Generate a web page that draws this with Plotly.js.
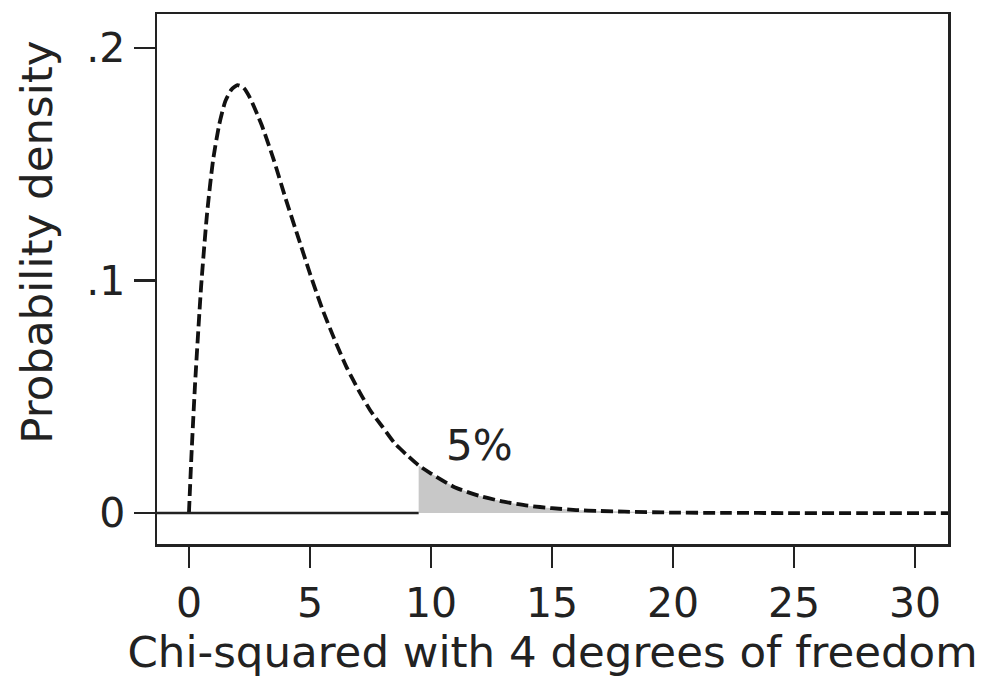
<!DOCTYPE html>
<html><head><meta charset="utf-8">
<script src="https://cdn.plot.ly/plotly-3.0.1.min.js"></script>
<style>html,body{margin:0;padding:0;background:#fff}#chart{width:990px;height:681px}</style>
</head><body><div id="chart"></div>
<script>
// Density curve
const xValues = [0,0.1,0.25,0.5,0.75,1,1.25,1.5,1.75,2,2.25,2.5,3,3.5,4,4.5,5,5.5,6,6.5,7,7.5,8,8.5,9,9.49,10,11,12,13,14,15,16,17,18,20,22,25,28,31.4];
const yValues = [0,0.024,0.055,0.097,0.129,0.152,0.167,0.177,0.182,0.184,0.183,0.179,0.167,0.152,0.135,0.119,0.103,0.088,0.075,0.063,0.053,0.044,0.037,0.030,0.025,0.0205,0.017,0.011,0.0074,0.0049,0.0032,0.0021,0.0013,0.0009,0.0006,0.0002,0.0001,0,0,0];
const criticalValue = 9.49;
const tailLabel = "5%";
const xTicks = [0,5,10,15,20,25,30];
const yTicks = [0,0.1,0.2];
const yTickText = ["0",".1",".2"];
const xTitle = "Chi-squared with 4 degrees of freedom";
const yTitle = "Probability density";

const tailX = [], tailY = [];
xValues.forEach((x,i)=>{ if (x >= criticalValue) { tailX.push(x); tailY.push(yValues[i]); } });

const FONT = "DejaVu Sans, Liberation Sans, sans-serif";
const FS = 41, TFS = 43.5;
const traces = [
  {x: tailX, y: tailY, type:'scatter', mode:'lines', fill:'tozeroy', fillcolor:'#c8c8c8', line:{width:0, color:'rgba(0,0,0,0)'}, hoverinfo:'skip'},
  {x: xValues, y: yValues, type:'scatter', mode:'lines', line:{color:'#111', width:3.8, dash:'12px,5px', shape:'spline', smoothing:0.6}}
];
const layout = {
  width:990, height:681,
  margin:{l:157, r:42, t:14, b:137},
  paper_bgcolor:'#fff', plot_bgcolor:'#fff',
  showlegend:false,
  font:{family:FONT, color:'#222', size:FS},
  xaxis:{range:[-1.32,31.36], tickvals:xTicks, ticks:'outside', ticklen:21, tickwidth:2.5, tickcolor:'#222',
         showline:true, linecolor:'#222', linewidth:2.5, mirror:true, showgrid:false, zeroline:false,
         tickfont:{size:FS}, title:{text:xTitle, font:{size:TFS}, standoff:0}, automargin:false},
  yaxis:{range:[-0.0133,0.2146], tickvals:yTicks, ticktext:yTickText, ticks:'outside', ticklen:21, tickwidth:2.5, tickcolor:'#222',
         showline:true, linecolor:'#222', linewidth:2.5, mirror:true, showgrid:false, zeroline:false,
         tickfont:{size:FS}, automargin:false},
  shapes:[{type:'line', xref:'x', yref:'y', x0:-1.32, x1:criticalValue, y0:0, y1:0, line:{color:'#222', width:2.5}}],
  annotations:[
    {x:12, y:0.029, xref:'x', yref:'y', text:tailLabel, showarrow:false, font:{size:42, color:'#222'}},
    {x:-0.152, y:0.57, xref:'paper', yref:'paper', xanchor:'center', yanchor:'middle', textangle:-90, text:yTitle, showarrow:false, font:{size:TFS, color:'#222'}}
  ]
};
Plotly.newPlot('chart', traces, layout, {displayModeBar:false, staticPlot:true});
</script></body></html>
